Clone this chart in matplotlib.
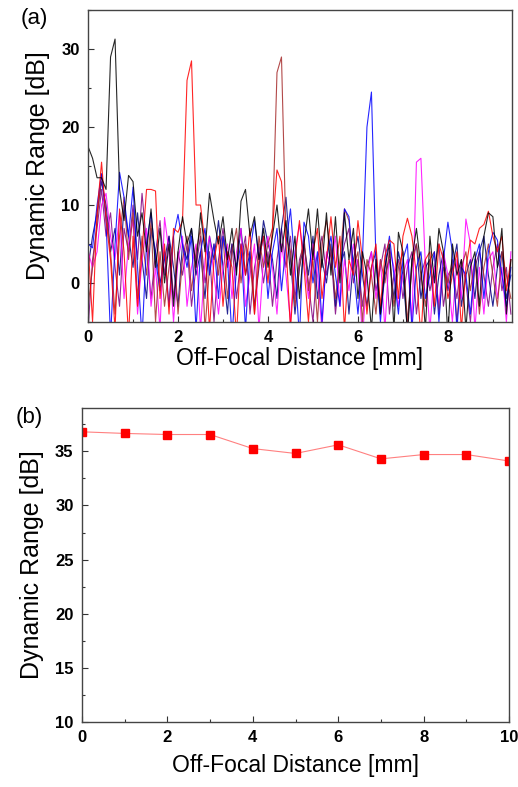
import matplotlib
matplotlib.use('Agg')
import matplotlib.pyplot as plt
import numpy as np
from matplotlib.ticker import MultipleLocator

plt.rcParams['font.family'] = ['Liberation Sans', 'DejaVu Sans']

# (a) dynamic range traces vs off-focal distance (0.1 mm steps)
dist_a = np.linspace(0, 9.4, 95)

trace_black = [17.5, 16, 13.5, 13.5, 12, 29, 31.3, 12, 8, 13.8,
               13, 6, 9, 4, 9.5, 2, 7, 0, 5, -3,
               4, 8.5, 5, 7, 2, 9, 4, 11.5, 8, 5,
               8.5, 3, 7, 1, 10.5, 12, 6, 8.5, 3, 7,
               2, 6, 10, 4, 8, 1, 6, -2, 5, 9.5,
               3, 9.5, 2, 9, 1, 8.5, 0, 9, 3, 7,
               -2, 4, 1, -6, 3, -4, 2, 5, -6, 6.5,
               4, -7, 3, 7, 2, -6, 6, 0, 7, 4,
               -7, 5, 1, 3, -6, 2, 4, -3, 6, 9,
               8.5, 2, 7, -4, 3]
trace_red = [5, -5, 9, 15.5, 8, 3, -6, 9.5, 4, -7,
             6, -3, 4, 12, 12, 11.8, -2, 5, -4, 7,
             6.5, 8, 26, 28.5, 10, 10, 5, -6, 3, 6,
             -3, 4, 2, -7, 5, 1, 7, -4, 3, 6,
             0, 7, 14.5, 13, 5, -6, 3, 8, 2, -5,
             4, 7, -2, 3, 8.5, 2, 6, -6, 3, 1,
             8, 3, -4, 2, 5, -3, 3.5, 5.5, 5, -2,
             6, 8.3, 6, 1, -7, 3, 4, -3, 5, 3,
             -2, 1, 4, -6, 2, 5.5, 5, 7, 7.5, 9.2,
             6, 4, 6, -1, 3]
trace_wine = [-3, 2, 8, 14, 9, 4, -4, 6, 11, 3,
              9, -2, 6, 1, 8, -5, 4, -3, 2, 6,
              -4, 3, 6, -1, 4, 7, -6, 2, 5, 1,
              6, -2, 4, 7, 0, 5, 3, -4, 6, 2,
              5, 7, 27, 29, 6, 4, -3, 2, 6, -1,
              3, -5, 5, 8, 4, -2, 3, 9.5, 8, 2,
              4, -5, 3, 1, -4, 3, 0, 4, -3, 2,
              4, -5, 2, 5, 1, -3, 3, 4, -4, 2,
              0, 3, -5, 2, 4, -1, 3, -4, 2, 5,
              1, -3, 4, 1, -2]
trace_blue = [5, 4.5, 10, 14, 8, -7, 5, 14.2, 11, 6,
              12.3, 2, -7, 5, 9, 3, -1, 4, -3, 6,
              8.8, 5, 2, 6, -6, 4, 7, 1, 5, -2,
              6, 3, -7, 2, 5, -6, 4, 8, 3, 6,
              -2, 4, 7, -1, 5, 9.5, 2, -7, 7.8, 6,
              0, 4, -5, 3, 6, 1, -3, 9.5, 8.5, 2,
              -4, 3, 20, 24.5, 3, -5, 2, 6, 1, -4,
              3, 5, -6, 2, 4, -2, 1, 4, -5, 3,
              7.8, 4, -6, 2, 1, -4, 3, 5, -2, 4,
              6.5, 5.5, 1, -3, 2]
trace_magenta = [4, 2, 4, 10, 11.5, 6, 3, 9, -2, 5,
                 8, -4, 3, 7, -3, 2, -6, 8.4, 4, -5,
                 3, 6, -3, 2, 5, -6, 3, 6, 1, -4,
                 2, 5, -2, 4, 7, -3, 1, 5, -6, 3,
                 6, 2, -4, 5, 1, -5, 4, 7.5, 3, -2,
                 5, 1, -6, 4, 2, 6, -3, 3, -1, 5,
                 2, -7, 1, 4, -2, 3, -6, 4.5, 2, -3,
                 1, 3, -5, 15.5, 16, 2, -6, 2, -3, 4,
                 1, -5, 3, -2, 8.2, 5, -6, 2, -4, 3,
                 4, -2, 2, -5, 4]
trace_purple = [-6, 3, 7, 12, 6, 9, 2, -3, 7, 4,
                10, 3, 11.5, 5, -2, 4, 8, 1, 6, -2,
                4, 1, 5, -3, 2, 6, 0, 4, -5, 3,
                7, 2, 5, -2, 3, 6, -4, 2, 5, 0,
                4, -3, 3, 7, 2, 6, -2, 3, 5, 0,
                -5, 3, 6, 1, 4, -4, 2, 5, 7, 0,
                3, -3, 2, 4, -1, 2, 5, -4, 1, 3,
                -2, 2, 4, -4, 1, 3, -1, 2, 5, -3,
                1, 2, -2, 3, 0, -5, 2, 4, 1, -3,
                2, 5, -1, 2, -4]
trace_navy = [2, 6, 9, 13, 10, 4, 7, 1, 10, 6,
              2, 9, 3, -2, 7, 4, 0, 3, 6, 2,
              -3, 5, 3, 7, 1, 4, -2, 6, 3, 8,
              2, -4, 5, 2, 7, 1, 4, -3, 2, 8,
              5, 3, -2, 7, 11, 3, -4, 2, 5, 1,
              6, -2, 3, 0, 5, -3, 2, 4, -4, 3,
              6, 1, -3, 2, 4, -4, 1, 3, -2, 4,
              1, -6, 3, 5, -2, 2, 3, -4, 1, 4,
              -1, 2, 5, -3, 1, 3, -2, 4, 6, 1,
              -3, 2, 4, -2, 1]

traces = [
    (trace_purple, '#800080'),
    (trace_navy, '#000080'),
    (trace_magenta, '#ff00ff'),
    (trace_wine, '#a52a2a'),
    (trace_blue, '#0000ff'),
    (trace_red, '#ff0000'),
    (trace_black, '#000000'),
]

# (b) peak dynamic range at each off-focal distance
dist_b = [0, 1, 2, 3, 4, 5, 6, 7, 8, 9, 10]
dr_b = [36.8, 36.65, 36.55, 36.55, 35.25, 34.8, 35.6, 34.3, 34.7, 34.7, 34.1]

fig = plt.figure(figsize=(5.18, 7.87), dpi=100)
ax1 = fig.add_axes([0.170, 0.591, 0.818, 0.396])
ax2 = fig.add_axes([0.158, 0.0826, 0.825, 0.399])

for vals, col in traces:
    ax1.plot(dist_a, vals, '-', color=col, linewidth=0.8, alpha=0.85)

ax1.set_xlim(0, 9.42)
ax1.set_ylim(-5, 35)
ax1.xaxis.set_major_locator(MultipleLocator(2))
ax1.xaxis.set_minor_locator(MultipleLocator(1))
ax1.yaxis.set_major_locator(MultipleLocator(10))
ax1.yaxis.set_minor_locator(MultipleLocator(5))
ax1.set_xlabel('Off-Focal Distance [mm]', fontsize=16.5, labelpad=1)
ax1.set_ylabel('Dynamic Range [dB]', fontsize=18, labelpad=8)
ax1.text(-0.16, 0.975, '(a)', transform=ax1.transAxes, fontsize=16, va='center')

ax2.plot(dist_b, dr_b, '-', color='#ff8080', linewidth=0.8)
ax2.plot(dist_b, dr_b, 's', color='#ff0000', markersize=6)
ax2.set_xlim(0, 10)
ax2.set_ylim(10, 39)
ax2.xaxis.set_major_locator(MultipleLocator(2))
ax2.xaxis.set_minor_locator(MultipleLocator(1))
ax2.yaxis.set_major_locator(MultipleLocator(5))
ax2.yaxis.set_minor_locator(MultipleLocator(2.5))
ax2.set_xlabel('Off-Focal Distance [mm]', fontsize=16.5, labelpad=6)
ax2.set_ylabel('Dynamic Range [dB]', fontsize=18, labelpad=8)
ax2.text(-0.155, 0.97, '(b)', transform=ax2.transAxes, fontsize=16, va='center')

for ax in (ax1, ax2):
    ax.tick_params(which='both', direction='in', top=False, right=False,
                   labelsize=12, width=0.8, colors='#333333', labelcolor='black')
    ax.tick_params(which='major', length=4.5, pad=6)
    ax.tick_params(which='minor', length=2.5)
    for lab in ax.get_xticklabels() + ax.get_yticklabels():
        lab.set_fontweight('bold')
    for sp in ax.spines.values():
        sp.set_color('#444444')
        sp.set_linewidth(1.0)

fig.savefig('out.png', dpi=100)
